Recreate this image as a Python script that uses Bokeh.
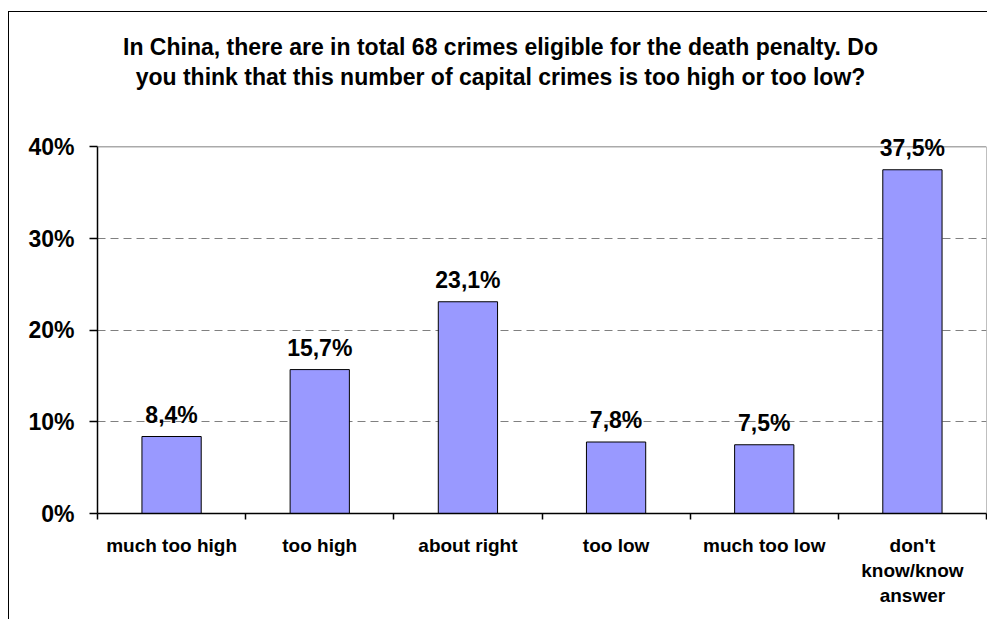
from bokeh.plotting import figure
from bokeh.models import (ColumnDataSource, Range1d, FixedTicker, PrintfTickFormatter,
                          LabelSet, Label, Span, InlineStyleSheet)
from bokeh.core.properties import value
from bokeh.embed import file_html
from bokeh.resources import INLINE

# ---- data ----
categories = ["much too high", "too high", "about right", "too low", "much too low",
              "don't\nknow/know\nanswer"]
values = [8.4, 15.7, 23.1, 7.8, 7.5, 37.5]
y_ticks = [0, 10, 20, 30, 40]
title_lines = ["In China, there are in total 68 crimes eligible for the death penalty. Do",
               "you think that this number of capital crimes is too high or too low?"]

FONT = "Liberation Sans"
Y_MAX = y_ticks[-1]

xs = [i + 0.5 for i in range(len(categories))]
labels = [f"{v:.1f}%".replace(".", ",") for v in values]
src = ColumnDataSource(dict(x=xs, top=values, label=labels))

p = figure(width=987, height=619, output_backend="svg", toolbar_location=None,
           x_range=Range1d(0, len(categories)), y_range=Range1d(0, 42),
           min_border_left=97, min_border_right=1, min_border_top=128, min_border_bottom=106)
p.background_fill_color = "white"
p.border_fill_color = "white"
p.outline_line_color = None

# plot-area border (top at 40 %, right edge)
p.add_layout(Span(location=Y_MAX, dimension="width", line_color="#808080", line_width=1))
p.segment(x0=[len(categories)], y0=[0], x1=[len(categories)], y1=[Y_MAX],
          line_color="#808080", line_width=1)

p.vbar(x="x", top="top", width=0.4, source=src, fill_color="#9999FF",
       line_color="black", line_width=1)

# y axis
p.yaxis.bounds = (0, Y_MAX)
p.yaxis.ticker = FixedTicker(ticks=y_ticks)
p.yaxis.formatter = PrintfTickFormatter(format="%d%%")
p.yaxis.major_label_text_font = FONT
p.yaxis.major_label_text_font_style = "bold"
p.yaxis.major_label_text_font_size = "23px"
p.yaxis.major_label_text_color = "black"
p.yaxis.major_label_standoff = 15
p.yaxis.major_tick_out = 8
p.yaxis.major_tick_in = 0
p.yaxis.minor_tick_line_color = None
p.yaxis.axis_line_color = "black"
p.yaxis.axis_line_width = 1.5
p.yaxis.major_tick_line_color = "black"
p.yaxis.major_tick_line_width = 1.5

# x axis
p.xaxis.ticker = FixedTicker(ticks=xs, minor_ticks=list(range(len(categories) + 1)))
p.xaxis.major_label_overrides = {x: c for x, c in zip(xs, categories)}
p.xaxis.major_label_text_font = FONT
p.xaxis.major_label_text_font_style = "bold"
p.xaxis.major_label_text_font_size = "19px"
p.xaxis.major_label_text_color = "black"
p.xaxis.major_label_text_line_height = 1.2
p.xaxis.major_label_standoff = 15
p.xaxis.major_tick_out = 0
p.xaxis.major_tick_in = 0
p.xaxis.major_tick_line_color = None
p.xaxis.minor_tick_out = 6
p.xaxis.minor_tick_in = 0
p.xaxis.minor_tick_line_color = "black"
p.xaxis.minor_tick_line_width = 1.5
p.xaxis.axis_line_color = "black"
p.xaxis.axis_line_width = 1.5

# grid
p.xgrid.grid_line_color = None
p.ygrid.ticker = FixedTicker(ticks=y_ticks[1:-1])
p.ygrid.grid_line_color = "#808080"
p.ygrid.grid_line_dash = "8 5"
p.ygrid.grid_line_width = 1

# data labels
p.add_layout(LabelSet(x="x", y="top", text="label", source=src, y_offset=14,
                      text_align="center", text_baseline="alphabetic",
                      text_font=value(FONT), text_font_style="bold", text_font_size="23px",
                      text_color="black"))

# title lines (placed in the top panel so they are not clipped to the plot area)
for y, line in zip([46, 76], title_lines):
    p.add_layout(Label(x=500, y=y, x_units="canvas", y_units="canvas", text=line,
                       text_align="center", text_baseline="alphabetic",
                       text_font=FONT, text_font_style="bold", text_font_size="23px",
                       text_color="black"), "above")

# outer border of the chart area
p.stylesheets = [InlineStyleSheet(css=(
    ":host { position: relative; }"
    ":host::after { content: ''; position: absolute; left: 8px; top: 11px; right: 0; bottom: 0;"
    " border-left: 1px solid black; border-top: 1px solid black; pointer-events: none; }"))]

open("out.html", "w").write(file_html(p, INLINE))
